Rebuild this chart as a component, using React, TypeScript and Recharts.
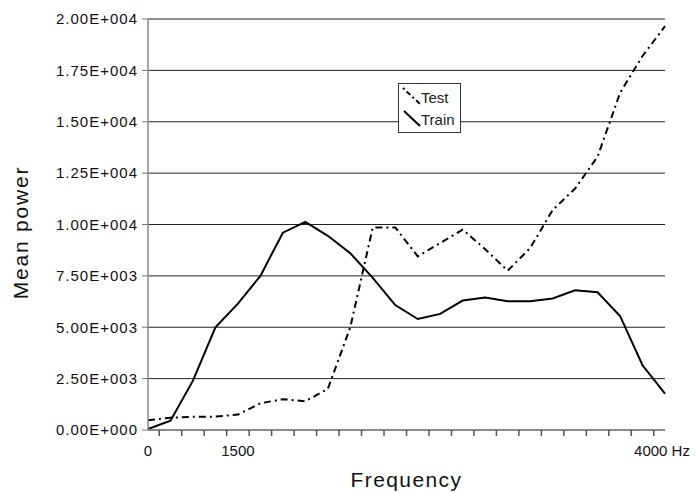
import React from 'react';
import { LineChart, Line, XAxis, YAxis, CartesianGrid, Legend, Label } from 'recharts';

// frequency bins (category positions along the x axis)
const binIndex = [0, 1, 2, 3, 4, 5, 6, 7, 8, 9, 10, 11, 12, 13, 14, 15, 16, 17, 18, 19, 20, 21, 22, 23];
// mean power per bin
const testPower = [470, 600, 640, 650, 750, 1300, 1500, 1400, 2000, 5000, 9860, 9860, 8450, 9100, 9750, 8800, 7750, 8850, 10700, 11750, 13300, 16400, 18200, 19650];
const trainPower = [50, 450, 2400, 5000, 6150, 7500, 9600, 10130, 9450, 8600, 7400, 6080, 5400, 5650, 6300, 6450, 6270, 6270, 6400, 6800, 6700, 5550, 3150, 1770];

const yTicks = [0, 2500, 5000, 7500, 10000, 12500, 15000, 17500, 20000];
const yTickLabels = ['0.00E+000', '2.50E+003', '5.00E+003', '7.50E+003', '1.00E+004', '1.25E+004', '1.50E+004', '1.75E+004', '2.00E+004'];
const xLabelBins = [0, 4, 23];
const xLabelTexts = ['0', '1500', '4000 Hz'];
const xMinorTicks = [0.5, 1.5, 2.5, 3.5, 4.5, 5.5, 6.5, 7.5, 8.5, 9.5, 10.5, 11.5, 12.5, 13.5, 14.5, 15.5, 16.5, 17.5, 18.5, 19.5, 20.5, 21.5, 22.5];

const seriesNames = ['Test', 'Train'];

const data = binIndex.map((b, i) => ({ bin: b, test: testPower[i], train: trainPower[i] }));
const xAllTicks = [...xLabelBins, ...xMinorTicks].sort((a, b) => a - b);

const FONT = '"Liberation Sans", Arial, Helvetica, sans-serif';
const TEST_DASH = '7 4 2 4';

const YTick = (props: any) => {
  const { x, y, payload } = props;
  const idx = yTicks.indexOf(payload.value);
  return (
    <text x={x} y={y} dy="0.355em" textAnchor="end" fontFamily={FONT} fontSize={15} fill="#111" style={{ letterSpacing: '1px' }}>
      {idx >= 0 ? yTickLabels[idx] : ''}
    </text>
  );
};

const XTick = (props: any) => {
  const { x, y, payload } = props;
  const idx = xLabelBins.indexOf(payload.value);
  if (idx < 0) {
    return (
      <g>
        <rect x={x - 0.75} y={y} width={1.5} height={6} fill="#555" />
      </g>
    );
  }
  const isLast = idx === xLabelTexts.length - 1;
  return (
    <g>
      <text x={x} y={y + 15} dx={isLast ? -3 : 0} dy="0.72em" textAnchor="middle" fontFamily={FONT} fontSize={15} fill="#111">
        {xLabelTexts[idx]}
      </text>
    </g>
  );
};

const FreqTitle = (props: any) => {
  const vb = props.viewBox || { x: 0, y: 0, width: 0, height: 0 };
  const cx = vb.x + vb.width / 2;
  const by = vb.y + vb.height - 6;
  return (
    <text x={cx} y={by} textAnchor="middle" fontFamily={FONT} fontSize={21} fill="#111" style={{ letterSpacing: '1.4px' }}>
      Frequency
    </text>
  );
};

const PowerTitle = (props: any) => {
  const vb = props.viewBox || { x: 0, y: 0, width: 0, height: 0 };
  const bx = vb.x + 28;
  const cy = vb.y + vb.height / 2 + 8;
  return (
    <text x={bx} y={cy} transform={`rotate(-90, ${bx}, ${cy})`} textAnchor="middle" fontFamily={FONT} fontSize={21} fill="#111" style={{ letterSpacing: '1.8px' }}>
      Mean power
    </text>
  );
};

const LegendBox = () => (
  <div style={{ width: 63, height: 50, border: '1px solid #333', background: '#fff', boxSizing: 'border-box' }}>
    <svg width={61} height={48} style={{ display: 'block' }}>
      <line x1={4} y1={4} x2={21} y2={20} stroke="#000" strokeWidth={2} strokeDasharray="2 3 5 3" />
      <text x={22} y={18.5} fontFamily={FONT} fontSize={15} fill="#222">{seriesNames[0]}</text>
      <line x1={5} y1={27} x2={21} y2={42} stroke="#000" strokeWidth={2} />
      <text x={22} y={41} fontFamily={FONT} fontSize={15} fill="#222">{seriesNames[1]}</text>
    </svg>
  </div>
);

export default function App() {
  return (
    <div style={{ position: 'fixed', left: 0, top: 0, width: 696, height: 493, background: '#fff', overflow: 'hidden' }}>
      <LineChart width={696} height={493} data={data} margin={{ top: 19, right: 31, bottom: 0, left: 0 }}>
        <CartesianGrid vertical={false} stroke="#222" strokeWidth={1} />
        <XAxis
          dataKey="bin"
          type="number"
          domain={[0, 23]}
          ticks={xAllTicks}
          height={63}
          tickSize={0}
          tickMargin={0}
          tick={XTick}
          axisLine={{ stroke: '#888', strokeWidth: 1.5 }}
          tickLine={false}
          interval={0}
          allowDecimals
        >
          <Label content={FreqTitle} />
        </XAxis>
        <YAxis
          width={148}
          domain={[0, 20000]}
          ticks={yTicks}
          tickSize={6}
          tickMargin={4}
          interval={0}
          axisLine={{ stroke: '#888', strokeWidth: 1.5 }}
          tickLine={{ stroke: '#777', strokeWidth: 1 }}
          tick={YTick}
        >
          <Label content={PowerTitle} />
        </YAxis>
        <Legend
          layout="vertical"
          verticalAlign="middle"
          align="center"
          wrapperStyle={{ left: 398, top: 83, width: 63, height: 50 }}
          content={LegendBox}
        />
        <Line
          type="linear"
          dataKey="test"
          name={seriesNames[0]}
          stroke="#000"
          strokeWidth={2}
          strokeDasharray={TEST_DASH}
          dot={false}
          activeDot={false}
          isAnimationActive={false}
        />
        <Line
          type="linear"
          dataKey="train"
          name={seriesNames[1]}
          stroke="#000"
          strokeWidth={2}
          dot={false}
          activeDot={false}
          isAnimationActive={false}
        />
      </LineChart>
    </div>
  );
}
